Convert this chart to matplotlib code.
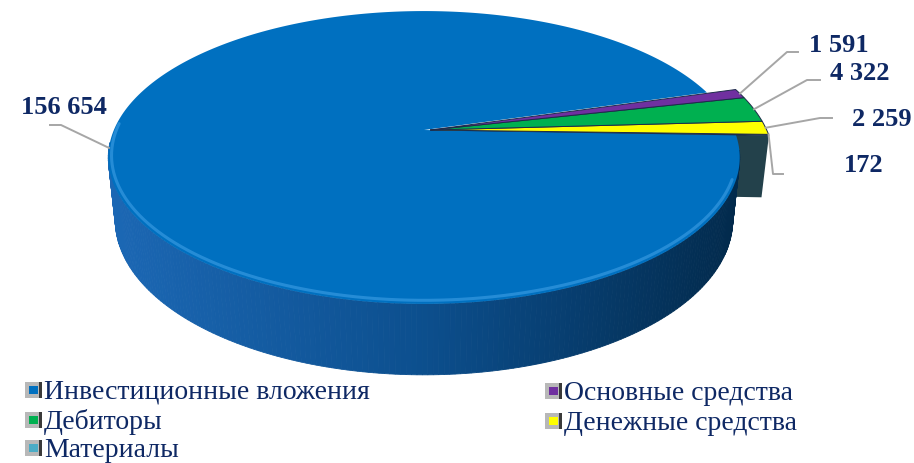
import numpy as np
import matplotlib.pyplot as plt
from matplotlib.patches import Polygon, Rectangle
from matplotlib.colors import to_rgb

labels = ["Инвестиционные вложения", "Основные средства", "Дебиторы",
          "Денежные средства", "Материалы"]
values = [156654, 1591, 4322, 2259, 172]
value_text = ["156 654", "1 591", "4 322", "2 259", "172"]
colors = ["#0070C0", "#7030A0", "#00B050", "#FFFF00", "#4BACC6"]

navy = "#0e2864"
serif = ["Liberation Serif", "DejaVu Serif"]

# camera for the fake 3d pie (screen pixels)
D, elev, f = 4.74, np.radians(27.1), 1470.0
x0, y0 = 424.0, 131.0
H = 0.228
start = -2.0          # degrees, lower edge of the last slice

def proj(X, Y, Z=0.0):
    c, s = np.cos(elev), np.sin(elev)
    d = D + Y * c - Z * s
    return x0 + f * X / d, y0 - f * (Y * s + Z * c) / d

def rim(phi, cx=0.0, R=1.0, Z=0.0):
    p = np.radians(phi)
    return proj(cx + R * np.cos(p), R * np.sin(p), Z)

# slice spans, counter-clockwise from `start` (excel draws clockwise)
vals = np.array(values, float)
deg = vals / vals.sum() * 360
spans = {}
t = start
for i in [4, 3, 2, 1, 0]:
    spans[i] = (t, t + deg[i])
    t += deg[i]

fig = plt.figure(figsize=(9.14, 4.64), dpi=100)
ax = fig.add_axes([0, 0, 1, 1])
ax.set_xlim(0, 914)
ax.set_ylim(464, 0)
ax.axis("off")

small_cx, small_R = 0.02, 1.085

# cut face of the small group, mostly hidden by the big slice
a = spans[4][0]
face = [proj(small_cx, 0, 0), rim(a, small_cx, small_R),
        rim(a, small_cx, small_R, -H), proj(small_cx, 0, -H)]
ax.add_patch(Polygon(face, closed=True, fc="#23414B", ec="none", zorder=1))

# side of the big slice with a left-to-right shading
a0, a1 = spans[0]
grad = [to_rgb("#1c68b5"), to_rgb("#0c4f8e"), to_rgb("#022a4c")]
phis = np.linspace(max(a0, 185), min(a1, 352), 200)
for p1, p2 in zip(phis[:-1], phis[1:]):
    q = [rim(p1), rim(p2), rim(p2, Z=-H), rim(p1, Z=-H)]
    xm = np.mean([pt[0] for pt in q])
    tt = np.clip((xm - 106) / 632, 0, 1)
    if tt < 0.5:
        col = np.array(grad[0]) * (1 - 2 * tt) + np.array(grad[1]) * 2 * tt
    else:
        col = np.array(grad[1]) * (2 - 2 * tt) + np.array(grad[2]) * (2 * tt - 1)
    ax.add_patch(Polygon(q, closed=True, fc=col, ec=col, lw=0.6, zorder=2))

# top of the big slice
arc = [rim(p) for p in np.linspace(a0, a1, 300)]
ax.add_patch(Polygon([proj(0, 0)] + arc, closed=True, fc=colors[0],
                     ec="none", zorder=3))
hl = np.array([rim(p, R=0.99) for p in np.linspace(178, 340, 200)])
ax.plot(hl[:, 0], hl[:, 1] - 1.5, color="#3f9fe6", lw=2.2, alpha=0.6,
        solid_capstyle="round", zorder=4)

# small slices on top
for i in [4, 3, 2, 1]:
    b0, b1 = spans[i]
    pts = [proj(small_cx, 0)] + [rim(p, small_cx, small_R)
                                 for p in np.linspace(b0, b1, 20)]
    ax.add_patch(Polygon(pts, closed=True, fc=colors[i], ec="#1d2b4a",
                         lw=0.7, zorder=5))

# data labels with leader lines
lab_pos = [(64, 107), (839, 46), (860, 73), (882, 119), (864, 166)]
elbows = [[(61, 126), (50, 126)], [(787, 53), (798, 53)],
          [(807, 81), (820, 81)], [(820, 119), (832, 119)],
          [(773, 175), (783, 175)]]
for i in range(5):
    b0, b1 = spans[i]
    if i == 0:
        anc = rim((b0 + b1) / 2)
    elif i == 4:
        anc = rim(b1, small_cx, small_R)
    else:
        anc = rim((b0 + b1) / 2, small_cx, small_R)
    line = np.array([anc] + elbows[i])
    ax.plot(line[:, 0], line[:, 1], color="#a6a6a6", lw=1.4, zorder=6)
    ax.text(lab_pos[i][0], lab_pos[i][1], value_text[i], ha="center",
            va="center", fontsize=19, fontweight="bold", color=navy,
            family=serif, zorder=7)

# legend, excel style (row by row)
leg_xy = [(25, 399), (545, 400), (25, 429), (545, 430), (25, 457)]
for i in range(5):
    lx, ly = leg_xy[i]
    ax.add_patch(Rectangle((lx, ly - 16), 17, 16, fc="#b8b8b8", ec="none", zorder=6))
    ax.add_patch(Rectangle((lx + 14, ly - 16), 3, 16, fc="#3a3a3a", ec="none", zorder=6))
    ax.add_patch(Rectangle((lx + 4, ly - 12), 9, 8, fc=colors[i], ec="none", zorder=7))
    ax.text(lx + 19, ly, labels[i], ha="left", va="baseline", fontsize=20,
            color=navy, family=serif, zorder=7)

fig.savefig("out.png", dpi=100)
